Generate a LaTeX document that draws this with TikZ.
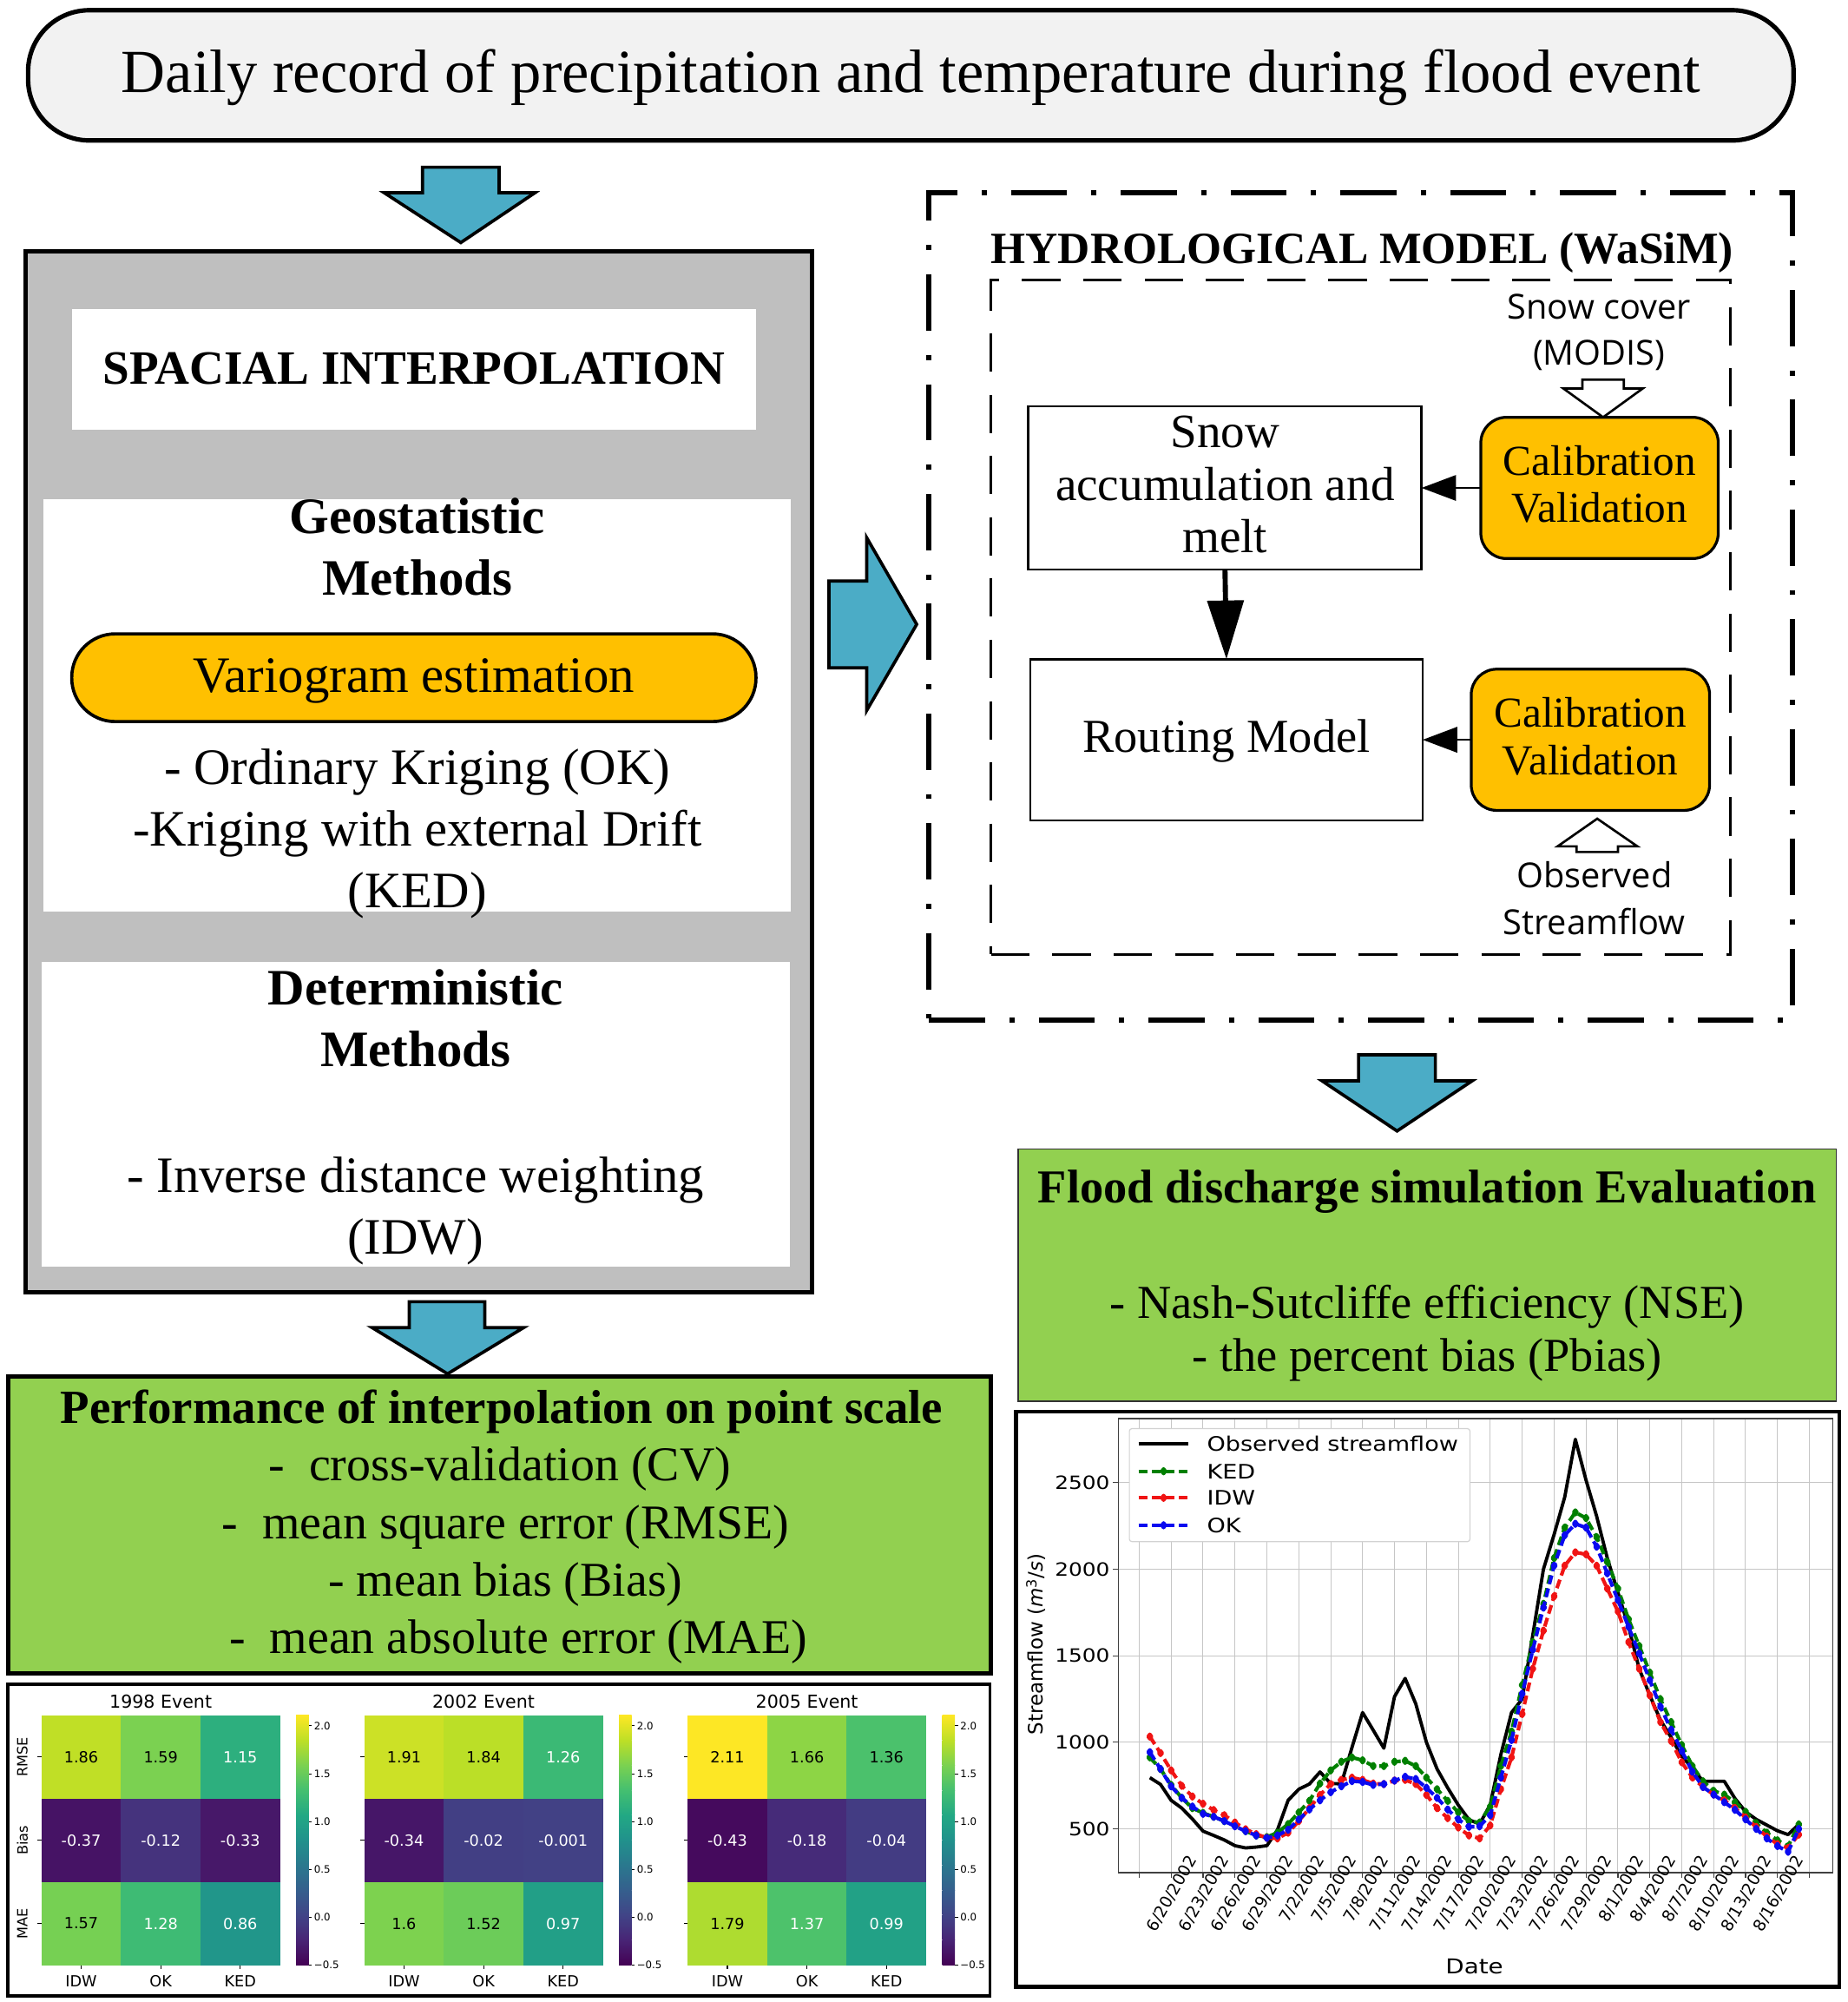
\documentclass[tikz,border=0pt]{standalone}
\usepackage{fontspec}
\setmainfont{Liberation Serif}
\newfontfamily\osans{Open Sans}
\newfontfamily\dvs{DejaVu Sans}
\newfontfamily\dvsw{DejaVu Sans}[FakeStretch=1.18]
\usetikzlibrary{arrows.meta,plotmarks}
\definecolor{topgray}{RGB}{242,242,242}
\definecolor{boxgray}{RGB}{191,191,191}
\definecolor{ablue}{RGB}{75,172,198}
\definecolor{gold}{RGB}{255,192,0}
\definecolor{lgreen}{RGB}{146,208,80}
\definecolor{mgreen}{RGB}{0,128,0}
\definecolor{mred}{RGB}{240,20,20}
\definecolor{mblue}{RGB}{10,10,240}
\definecolor{k0}{RGB}{68,1,84}
\definecolor{k1}{RGB}{72,36,117}
\definecolor{k2}{RGB}{65,68,135}
\definecolor{k3}{RGB}{53,95,141}
\definecolor{k4}{RGB}{42,120,142}
\definecolor{k5}{RGB}{33,145,140}
\definecolor{k6}{RGB}{34,168,132}
\definecolor{k7}{RGB}{68,191,112}
\definecolor{k8}{RGB}{122,209,81}
\definecolor{k9}{RGB}{189,223,38}
\definecolor{k10}{RGB}{253,231,37}
\newcommand\fs[1]{\fontsize{#1}{#1}\selectfont}
\tikzset{
  plainbox/.style={inner sep=0pt, outer sep=0pt},
  txt/.style={anchor=base, inner sep=0pt},
  bluearrow/.style={fill=ablue, draw=black, line width=2.5pt, line join=miter},
  hollow/.style={fill=white, draw=black, line width=1.8pt, line join=miter},
  calbox/.style={plainbox, draw=black, fill=gold, line width=2.2pt, rounded corners=20pt},
  modelbox/.style={plainbox, draw=black, fill=white, line width=1.8pt},
  hmval/.style={inner sep=0pt, font=\dvs\fs{12}},
  gridc/.style={draw=gray!45, line width=0.7pt},
  obsline/.style={black, line width=2.6pt, line join=round},
  simline/.style={line width=2.8pt, dash pattern=on 7pt off 3.5pt, line join=round, mark=diamond*, mark size=1.8pt},
}
\newcommand\heatmap[4]{%
  \begin{scope}[shift={(#2,1343.5)}]
    \foreach \cx/\ry/\val/\cc/\tc in {#4}{
      \fill[fill=\cc] (\cx*62.33,\ry*65.2) rectangle ++(62.33,65.2);
      \node[hmval, text=\tc] (#1v\cx\ry) at (\cx*62.33+31.17,\ry*65.2+32.6) {\val};
    }
    \node[txt, font=\dvs\fs{14}] (#1title) at (93.5,-5.7) {#3};
    \foreach \ry in {0,1,2} \draw[line width=0.8pt] (0,\ry*65.2+32.6) -- ++(-3pt,0);
    \foreach \cx/\lab in {0/IDW,1/OK,2/KED}{
      \draw[line width=0.8pt] (\cx*62.33+31.17,195.6) -- ++(0,-3pt);
      \node[txt, font=\dvs\fs{12}] (#1c\cx) at (\cx*62.33+31.17,212.5) {\lab};
    }
    \foreach \i [evaluate=\i as \j using int(\i+1)] in {0,...,9}
      \shade[bottom color=k\i, top color=k\j] (199.6,195.6-\i*19.56-19.56) rectangle (209.5,195.6-\i*19.56);
    \foreach \yy/\lab in {195.6/{−0.5},158.1/0.0,120.7/0.5,83.2/1.0,45.7/1.5,8.2/2.0}{
      \draw[line width=0.6pt] (209.5,\yy) -- ++(2.5pt,0);
      \node[anchor=west, inner sep=0pt, font=\dvs\fs{8}] at (213.5,\yy) {\lab};
    }
  \end{scope}}
\begin{document}
\begin{tikzpicture}[x=1pt,y=-1pt]
\useasboundingbox (0,0) rectangle (1447,1568);
\fill[white] (0,0) rectangle (1447,1568);

% ---------- top box
\node[plainbox, draw=black, line width=3.5pt, fill=topgray, rounded corners=48pt,
      minimum width=1383pt, minimum height=102pt] (top) at (713.5,59) {};
\node[txt, font=\fs{48}] (toptxt) at (713.5,72.5) {Daily record of precipitation and temperature during flood event};

% blue arrow 1
\draw[bluearrow] (331,131) -- (391,131) -- (391,151) -- (419,151) -- (361,190) -- (301,151) -- (331,151) -- cycle;

% ---------- interpolation block
\node[plainbox, draw=black, line width=3.5pt, fill=boxgray, minimum width=616pt, minimum height=815pt] (interp) at (328,604.5) {};
\node[plainbox, fill=white, minimum width=536pt, minimum height=94pt] (spac) at (324.2,289.3) {};
\node[txt, font=\bfseries\fs{37.5}] (spactxt) at (324.2,300.7) {SPACIAL INTERPOLATION};
\node[plainbox, fill=white, minimum width=585.5pt, minimum height=323.3pt] (geo) at (326.9,552.6) {};
\node[txt, font=\bfseries\fs{40}] (geo1) at (326.9,417.6) {Geostatistic};
\node[txt, font=\bfseries\fs{40}] (geo2) at (326.9,466.2) {Methods};
\node[plainbox, draw=black, line width=2.5pt, fill=gold, rounded corners=34pt, minimum width=536pt, minimum height=68.7pt] (vario) at (324.2,530.8) {};
\node[txt, font=\fs{40}] (variotxt) at (324.2,542.5) {Variogram estimation};
\node[txt, font=\fs{40}] (geo3) at (326.9,614.3) {- Ordinary Kriging (OK)};
\node[txt, font=\fs{40}] (geo4) at (326.9,662.3) {-Kriging with external Drift};
\node[txt, font=\fs{40}] (geo5) at (326.9,710.8) {(KED)};
\node[plainbox, fill=white, minimum width=585.9pt, minimum height=238.9pt] (det) at (325.5,872.75) {};
\node[txt, font=\bfseries\fs{40}] (det1) at (325.5,787.2) {Deterministic};
\node[txt, font=\bfseries\fs{40}] (det2) at (325.5,835.3) {Methods};
\node[txt, font=\fs{40}] (det3) at (325.5,933.6) {- Inverse distance weighting};
\node[txt, font=\fs{40}] (det4) at (325.5,982.4) {(IDW)};

% blue arrow right
\draw[bluearrow] (649.4,455.1) -- (678.9,455.1) -- (678.9,421.1) -- (718.1,489) -- (678.9,556.5) -- (678.9,523.1) -- (649.4,523.1) -- cycle;
% blue arrow 2
\draw[bluearrow] (320.6,1019.5) -- (379.8,1019.5) -- (379.8,1039.8) -- (410.2,1039.8) -- (350.6,1076) -- (291.5,1039.8) -- (320.6,1039.8) -- cycle;

% ---------- performance box
\node[plainbox, draw=black, line width=3.5pt, fill=lgreen, minimum width=769.7pt, minimum height=232.4pt] (perf) at (391.2,1194.2) {};
\node[txt, font=\bfseries\fs{37.3}] (perf0) at (393,1115.1) {Performance of interpolation on point scale};
\node[txt, font=\fs{38}] (perf1) at (391.5,1160) {-\ \ cross-validation (CV)};
\node[txt, font=\fs{38}] (perf2) at (396,1204.9) {-\ \ mean square error (RMSE)};
\node[txt, font=\fs{38}] (perf3) at (396,1249.8) {- mean bias (Bias)};
\node[txt, font=\fs{38}] (perf4) at (406,1294.7) {-\ \ mean absolute error (MAE)};

% ---------- heatmaps
\node[plainbox, draw=black, line width=2.5pt, minimum width=769.5pt, minimum height=244pt] (hmbox) at (390.75,1441) {};
\heatmap{ha}{32.4}{1998 Event}{0/0/1.86/k9!96!k10/black, 1/0/1.59/k8!99!k9/black, 2/0/1.15/k6!68!k7/white,
  0/1/-0.37/k0!50!k1/white, 1/1/-0.12/k1!54!k2/white, 2/1/-0.33/k0!35!k1/white,
  0/2/1.57/k7!7!k8/black, 1/2/1.28/k6!18!k7/white, 2/2/0.86/k5!79!k6/white}
\heatmap{hb}{285.3}{2002 Event}{0/0/1.91/k9!77!k10/black, 1/0/1.84/k8!3!k9/black, 2/0/1.26/k6!26!k7/white,
  0/1/-0.34/k0!39!k1/white, 1/1/-0.02/k1!16!k2/white, 2/1/-0.001/k1!9!k2/white,
  0/2/1.6/k8!95!k9/black, 1/2/1.52/k7!26!k8/black, 2/2/0.97/k5!37!k6/white}
\heatmap{hc}{538.6}{2005 Event}{0/0/2.11/k10/black, 1/0/1.66/k8!72!k9/black, 2/0/1.36/k7!87!k8/black,
  0/1/-0.43/k0!73!k1/white, 1/1/-0.18/k1!77!k2/white, 2/1/-0.04/k1!24!k2/white,
  0/2/1.79/k8!23!k9/black, 1/2/1.37/k7!84!k8/white, 2/2/0.99/k5!29!k6/white}
\node[rotate=90, inner sep=0pt, font=\dvs\fs{11}] (rl1) at (17.5,1376.1) {RMSE};
\node[rotate=90, inner sep=0pt, font=\dvs\fs{11}] (rl2) at (17.5,1441.3) {Bias};
\node[rotate=90, inner sep=0pt, font=\dvs\fs{11}] (rl3) at (17.5,1506.5) {MAE};

% ---------- hydrological model
\node[plainbox, draw=black, line width=4pt, dash pattern=on 44pt off 19pt on 4pt off 19pt, minimum width=676.4pt, minimum height=647.5pt] (hydro) at (1065.9,474.95) {};
\node[txt, font=\bfseries\fs{35}] (hydrotitle) at (1067,206.3) {HYDROLOGICAL MODEL (WaSiM)};
\node[plainbox, draw=black, line width=2pt, dash pattern=on 30pt off 18pt, minimum width=579pt, minimum height=528.2pt] (inner) at (1065.9,483.4) {};
\node[txt, font=\osans\fs{27}] (modis1) at (1252.6,249.6) {Snow cover};
\node[txt, font=\osans\fs{27}] (modis2) at (1252.6,285.6) {(MODIS)};
\draw[hollow] (1239.6,297.3) -- (1272,297.3) -- (1272,304.3) -- (1286.8,304.3) -- (1255.8,326.8) -- (1224.7,304.3) -- (1239.6,304.3) -- cycle;
\node[modelbox, minimum width=308pt, minimum height=127.9pt] (snow) at (959.6,382.15) {};
\node[txt, font=\fs{37.5}] (snow1) at (959.6,350.7) {Snow};
\node[txt, font=\fs{37.5}] (snow2) at (959.6,391.9) {accumulation and};
\node[txt, font=\fs{37.5}] (snow3) at (959.6,433.1) {melt};
\node[calbox, minimum width=186pt, minimum height=110.6pt] (cal1) at (1253,382.15) {};
\node[txt, font=\fs{33.5}] (cal1a) at (1253,372.4) {Calibration};
\node[txt, font=\fs{33.5}] (cal1b) at (1253,409.2) {Validation};
\node[modelbox, minimum width=307.5pt, minimum height=126.2pt] (routing) at (960.75,579.4) {};
\node[txt, font=\fs{37}] (routtxt) at (960.75,589.2) {Routing Model};
\node[calbox, minimum width=186.7pt, minimum height=110.6pt] (cal2) at (1245.85,579.4) {};
\node[txt, font=\fs{33.5}] (cal2a) at (1245.85,569.7) {Calibration};
\node[txt, font=\fs{33.5}] (cal2b) at (1245.85,606.6) {Validation};
\draw[hollow] (1235,667.3) -- (1267.4,667.3) -- (1267.4,662.9) -- (1282.7,662.9) -- (1251.2,641.2) -- (1220.1,662.9) -- (1235,662.9) -- cycle;
\node[txt, font=\osans\fs{27}] (obs1) at (1248.9,695.4) {Observed};
\node[txt, font=\osans\fs{27}] (obs2) at (1248.9,732.3) {Streamflow};
\draw[line width=1.2pt, -{Triangle[length=27pt,width=20pt]}] (cal1.west) -- (snow.east);
\draw[line width=1.2pt, -{Triangle[length=27pt,width=20pt]}] (cal2.west) -- (routing.east);
\draw[line width=4pt, -{Triangle[length=46pt,width=28pt]}] (snow.south) -- (routing.north);

% blue arrow 3
\draw[bluearrow] (1064.2,826.2) -- (1124.4,826.2) -- (1124.4,846.6) -- (1153.1,846.6) -- (1094.4,885.8) -- (1035.7,846.6) -- (1064.2,846.6) -- cycle;

% ---------- flood evaluation
\node[plainbox, draw=black!80, line width=1.2pt, fill=lgreen, minimum width=641pt, minimum height=197.8pt] (flood) at (1118,998.8) {};
\node[txt, font=\bfseries\fs{37}] (flood0) at (1118,941.8) {Flood discharge simulation Evaluation};
\node[txt, font=\fs{37}] (flood1) at (1118,1032.5) {- Nash-Sutcliffe efficiency (NSE)};
\node[txt, font=\fs{37}] (flood2) at (1118,1073.9) {- the percent bias (Pbias)};

% ---------- chart
\node[plainbox, draw=black, line width=3pt, minimum width=645pt, minimum height=450.3pt] (chart) at (1118.5,1330.85) {};
\begin{scope}[shift={(892.4,1500.2)}, x=8.333pt, y=0.1356pt]
  \coordinate (pasw) at (-1.98,248);
  \coordinate (pane) at (65.2,2870);
  \foreach \d in {0,3,...,63} {
    \draw[gridc] (\d,248) -- (\d,2870);
    \draw[line width=0.8pt, black!75] (\d,248) -- ++(0,-4pt);
  }
  \foreach \val in {500,1000,1500,2000,2500} {
    \draw[gridc] (-1.98,\val) -- (65.2,\val);
    \draw[line width=0.8pt, black!75] (-1.98,\val) -- ++(-4pt,0);
    \node[anchor=east, inner sep=0pt, font=\dvsw\fs{14.3}, xshift=-6.4pt] (yt\val) at (-1.98,\val) {\val};
  }
  \draw[line width=0.9pt, black!75] (pasw) rectangle (pane);
  \foreach \d/\mo/\dd in {3/6/20,6/6/23,9/6/26,12/6/29,15/7/2,18/7/5,21/7/8,24/7/11,27/7/14,30/7/17,33/7/20,36/7/23,39/7/26,42/7/29,45/8/1,48/8/4,51/8/7,54/8/10,57/8/13,60/8/16}
    \node[anchor=east, rotate=60, inner sep=0pt, font=\dvs\fs{12.8}, xshift=19pt, yshift=-9pt] (xt\d) at (\d,248) {\mo/\dd/2002};
  % observed
  \draw[obsline] plot coordinates {(1,796) (2,757) (3,665) (4,620) (5,557) (6,487) (7,462) (8,436) (9,403) (10,390) (11,395) (12,403) (13,495) (14,665) (15,729) (16,759) (17,829) (18,762) (19,760) (20,970) (21,1172) (22,1070) (23,966) (24,1264) (25,1369) (26,1222) (27,1000) (28,846) (29,737) (30,637) (31,553) (32,528) (33,640) (34,930) (35,1172) (36,1250) (37,1620) (38,2000) (39,2200) (40,2416) (41,2750) (42,2515) (43,2306) (44,2064) (45,1866) (46,1667) (47,1425) (48,1271) (49,1128) (50,1029) (51,918) (52,852) (53,775) (54,775) (55,775) (56,676) (57,599) (58,555) (59,522) (60,489) (61,467) (62,526)};
  % KED
  \draw[simline, mgreen, mark options={solid, fill=mgreen}] plot coordinates {(1,913) (2,846) (3,754) (4,679) (5,620) (6,592) (7,570) (8,545) (9,520) (10,487) (11,462) (12,453) (13,478) (14,528) (15,595) (16,662) (17,762) (18,838) (19,888) (20,913) (21,896) (22,863) (23,863) (24,888) (25,893) (26,863) (27,796) (28,729) (29,662) (30,595) (31,545) (32,537) (33,629) (34,863) (35,1063) (36,1331) (37,1579) (38,1800) (39,2064) (40,2240) (41,2328) (42,2295) (43,2185) (44,2042) (45,1888) (46,1711) (47,1557) (48,1403) (49,1249) (50,1117) (51,985) (52,863) (53,775) (54,720) (55,698) (56,654) (57,599) (58,533) (59,478) (60,434) (61,400) (62,526)};
  % IDW
  \draw[simline, mred, mark options={solid, fill=mred}] plot coordinates {(1,1033) (2,938) (3,838) (4,749) (5,687) (6,645) (7,609) (8,579) (9,537) (10,498) (11,470) (12,448) (13,445) (14,478) (15,545) (16,620) (17,696) (18,759) (19,783) (20,796) (21,783) (22,762) (23,759) (24,779) (25,783) (26,759) (27,696) (28,620) (29,562) (30,508) (31,462) (32,445) (33,520) (34,729) (35,913) (36,1164) (37,1425) (38,1645) (39,1843) (40,2020) (41,2097) (42,2086) (43,2020) (44,1888) (45,1756) (46,1579) (47,1425) (48,1271) (49,1117) (50,1007) (51,885) (52,797) (53,742) (54,698) (55,665) (56,621) (57,566) (58,511) (59,456) (60,412) (61,390) (62,467)};
  % OK
  \draw[simline, mblue, mark options={solid, fill=mblue}] plot coordinates {(1,943) (2,846) (3,746) (4,679) (5,629) (6,587) (7,570) (8,545) (9,515) (10,487) (11,462) (12,448) (13,462) (14,495) (15,554) (16,612) (17,665) (18,712) (19,746) (20,776) (21,771) (22,754) (23,759) (24,779) (25,801) (26,788) (27,737) (28,679) (29,612) (30,554) (31,512) (32,515) (33,579) (34,796) (35,1013) (36,1281) (37,1535) (38,1778) (39,2020) (40,2196) (41,2262) (42,2240) (43,2130) (44,1976) (45,1822) (46,1667) (47,1513) (48,1359) (49,1205) (50,1073) (51,951) (52,830) (53,742) (54,698) (55,654) (56,610) (57,555) (58,500) (59,445) (60,401) (61,368) (62,500)};
\end{scope}
\node[rotate=90, inner sep=0pt, font=\dvs\fs{15.6}] (ylab) at (811.5,1288) {Streamflow ({\itshape m}\textsuperscript{3}/{\itshape s})};
\node[inner sep=0pt, font=\dvsw\fs{16}] (xlab) at (1155,1540) {Date};
% legend
\node[plainbox, draw=gray!35, line width=0.8pt, fill=white, rounded corners=2pt, minimum width=266.8pt, minimum height=88.5pt] (legend) at (1018.1,1163.15) {};
\draw[obsline] (891.9,1130.8) -- (931,1130.8);
\draw[simline, mgreen, mark options={solid, fill=mgreen}, mark indices={2}] plot coordinates {(891.9,1152.3) (911.5,1152.3) (931,1152.3)};
\draw[simline, mred, mark options={solid, fill=mred}, mark indices={2}] plot coordinates {(891.9,1173.1) (911.5,1173.1) (931,1173.1)};
\draw[simline, mblue, mark options={solid, fill=mblue}, mark indices={2}] plot coordinates {(891.9,1194.6) (911.5,1194.6) (931,1194.6)};
\node[anchor=west, inner sep=0pt, font=\dvsw\fs{15.6}] (lg1) at (945.3,1130.8) {Observed streamflow};
\node[anchor=west, inner sep=0pt, font=\dvsw\fs{15.6}] (lg2) at (945.3,1152.3) {KED};
\node[anchor=west, inner sep=0pt, font=\dvsw\fs{15.6}] (lg3) at (945.3,1173.1) {IDW};
\node[anchor=west, inner sep=0pt, font=\dvsw\fs{15.6}] (lg4) at (945.3,1194.6) {OK};
\end{tikzpicture}
\end{document}
